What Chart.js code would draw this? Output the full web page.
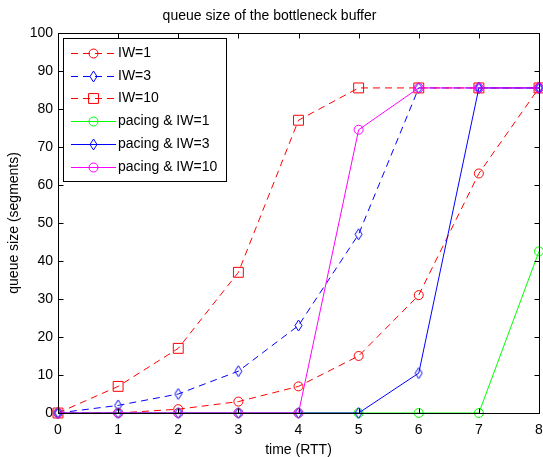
<!DOCTYPE html>
<html>
<head>
<meta charset="utf-8">
<script src="https://cdn.jsdelivr.net/npm/chart.js@4/dist/chart.umd.min.js"></script>
<style>
  body { margin: 0; background: #fff; }
  canvas { display: block; }
</style>
</head>
<body>
<canvas id="myChart" width="543" height="457"></canvas>
<script>
// datos de la cola (segmentos) por cada RTT
const tiempos = [0, 1, 2, 3, 4, 5, 6, 7, 8];
const iw1 = [0, 0, 1, 3, 7, 15, 31, 63, 85.5];
const iw3 = [0, 2, 5, 11, 23, 47, 85.5, 85.5, 85.5];
const iw10 = [0, 7, 17, 37, 77, 85.5, 85.5, 85.5, 85.5];
const pacingIw1 = [0, 0, 0, 0, 0, 0, 0, 0, 42.5];
const pacingIw3 = [0, 0, 0, 0, 0, 0, 10.5, 85.5, 85.5];
const pacingIw10 = [0, 0, 0, 0, 0, 74.5, 85.5, 85.5, 85.5];
const etiquetas = ['IW=1', 'IW=3', 'IW=10', 'pacing & IW=1', 'pacing & IW=3', 'pacing & IW=10'];
const ticksX = [0, 1, 2, 3, 4, 5, 6, 7, 8];
const ticksY = [0, 10, 20, 30, 40, 50, 60, 70, 80, 90, 100];

const fuente = '"Liberation Sans", Arial, sans-serif';

// rombo sin relleno, más alto que ancho
const rombo = (color) => {
  const c = document.createElement('canvas');
  c.width = 9;
  c.height = 13;
  const g = c.getContext('2d');
  g.strokeStyle = color;
  g.lineWidth = 1;
  g.beginPath();
  g.moveTo(4.5, 1);
  g.lineTo(8, 6.5);
  g.lineTo(4.5, 12);
  g.lineTo(1, 6.5);
  g.closePath();
  g.stroke();
  return c;
};

const puntos = (valores) => tiempos.map((t, i) => ({ x: t, y: valores[i] }));

const serie = (i, valores, color, estilo, punteada) => ({
  label: etiquetas[i],
  data: puntos(valores),
  borderColor: color,
  backgroundColor: 'rgba(0,0,0,0)',
  borderWidth: 1,
  borderDash: punteada ? [7, 5] : [],
  showLine: true,
  pointStyle: estilo === 'rombo' ? rombo(color) : estilo,
  pointRadius: estilo === 'rect' ? 7 : 4.5,
  pointBorderColor: color,
  pointBackgroundColor: 'rgba(0,0,0,0)',
  pointBorderWidth: 1,
  order: 6 - i,
  clip: false
});

const datasets = [
  serie(0, iw1, '#ff0000', 'circle', true),
  serie(1, iw3, '#0000ff', 'rombo', true),
  serie(2, iw10, '#ff0000', 'rect', true),
  serie(3, pacingIw1, '#00ff00', 'circle', false),
  serie(4, pacingIw3, '#0000ff', 'rombo', false),
  serie(5, pacingIw10, '#ff00ff', 'circle', false)
];

// caja del eje con marcas hacia adentro (estilo matlab)
const cajaEjes = {
  id: 'cajaEjes',
  afterDatasetsDraw(chart) {
    const { ctx, chartArea: a, scales } = chart;
    ctx.save();
    ctx.strokeStyle = '#000';
    ctx.lineWidth = 1;
    const l = Math.round(a.left) + 0.5, r = Math.round(a.right) + 0.5;
    const t = Math.round(a.top) + 0.5, b = Math.round(a.bottom) + 0.5;
    ctx.strokeRect(l, t, r - l, b - t);
    ctx.beginPath();
    ticksX.forEach(v => {
      const x = Math.round(scales.x.getPixelForValue(v)) + 0.5;
      ctx.moveTo(x, b); ctx.lineTo(x, b - 5);
      ctx.moveTo(x, t); ctx.lineTo(x, t + 5);
    });
    ticksY.forEach(v => {
      const y = Math.round(scales.y.getPixelForValue(v)) + 0.5;
      ctx.moveTo(l, y); ctx.lineTo(l + 5, y);
      ctx.moveTo(r, y); ctx.lineTo(r - 5, y);
    });
    ctx.stroke();
    ctx.restore();
  }
};

// leyenda dentro del grafico, con linea y marcador
const leyenda = {
  id: 'leyenda',
  afterDraw(chart) {
    const { ctx } = chart;
    const x0 = 63.5, y0 = 38.5, w = 163, h = 143;
    ctx.save();
    ctx.fillStyle = '#fff';
    ctx.fillRect(x0, y0, w, h);
    ctx.strokeStyle = '#000';
    ctx.lineWidth = 1;
    ctx.strokeRect(x0, y0, w, h);
    chart.data.datasets.forEach((ds, i) => {
      const y = Math.round(53 + i * 22.7) + 0.5;
      ctx.strokeStyle = ds.borderColor;
      ctx.setLineDash(ds.borderDash);
      ctx.beginPath();
      ctx.moveTo(71, y);
      ctx.lineTo(116, y);
      ctx.stroke();
      ctx.setLineDash([]);
      ctx.fillStyle = 'rgba(0,0,0,0)';
      ctx.strokeStyle = ds.borderColor;
      Chart.helpers.drawPoint(ctx, {
        pointStyle: ds.pointStyle,
        radius: ds.pointRadius,
        borderWidth: 1,
        rotation: 0
      }, 93.5, y);
      ctx.fillStyle = '#000';
      ctx.font = '14px ' + fuente;
      ctx.textBaseline = 'middle';
      ctx.textAlign = 'left';
      ctx.fillText(ds.label, 118, y);
    });
    ctx.restore();
  }
};

const ctx = document.getElementById('myChart').getContext('2d');
const myChart = new Chart(ctx, {
  type: 'scatter',
  data: { datasets: datasets },
  options: {
    responsive: false,
    animation: false,
    devicePixelRatio: 1,
    layout: { autoPadding: false, padding: { top: 0, right: 4, bottom: 0, left: 0 } },
    plugins: {
      legend: { display: false },
      tooltip: { enabled: false },
      title: {
        display: true,
        text: 'queue size of the bottleneck buffer',
        color: '#000',
        font: { family: fuente, size: 14, weight: 'normal' },
        padding: { top: 8, bottom: 8 }
      }
    },
    scales: {
      x: {
        type: 'linear',
        min: 0,
        max: 8,
        afterFit: (s) => { s.height = 44; s.paddingLeft = 0; s.paddingRight = 0; },
        afterBuildTicks: (s) => { s.ticks = ticksX.map(v => ({ value: v })); },
        grid: { display: false, drawTicks: false },
        border: { display: false },
        ticks: { color: '#000', padding: 9, font: { family: fuente, size: 14 } },
        title: {
          display: true,
          text: 'time (RTT)',
          color: '#000',
          font: { family: fuente, size: 14, lineHeight: 1 },
          padding: { top: 0, bottom: 0 }
        }
      },
      y: {
        type: 'linear',
        min: 0,
        max: 100,
        afterFit: (s) => { s.width = 58; s.paddingTop = 0; s.paddingBottom = 0; },
        afterBuildTicks: (s) => { s.ticks = ticksY.map(v => ({ value: v })); },
        grid: { display: false, drawTicks: false },
        border: { display: false },
        ticks: { color: '#000', padding: 5, font: { family: fuente, size: 14 } },
        title: {
          display: true,
          text: 'queue size (segments)',
          color: '#000',
          font: { family: fuente, size: 14 },
          padding: { top: 6, bottom: 0 }
        }
      }
    }
  },
  plugins: [cajaEjes, leyenda]
});
</script>
</body>
</html>
